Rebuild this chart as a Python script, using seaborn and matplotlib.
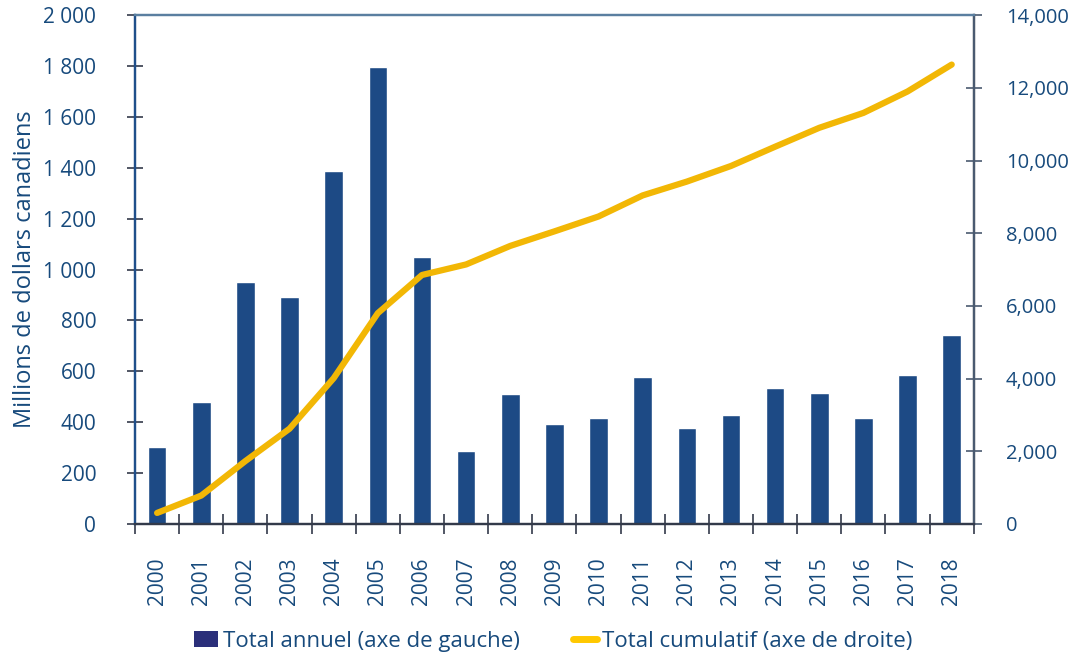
import numpy as np
import pandas as pd
import matplotlib
matplotlib.use("Agg")
import matplotlib.pyplot as plt
import matplotlib.transforms as mtrans
import seaborn as sns
from matplotlib.patches import Patch
from matplotlib.lines import Line2D
from matplotlib.ticker import FixedLocator

years = ["2000", "2001", "2002", "2003", "2004", "2005", "2006", "2007", "2008", "2009",
         "2010", "2011", "2012", "2013", "2014", "2015", "2016", "2017", "2018"]
annual = [302, 479, 951, 892, 1387, 1796, 1049, 287, 511, 393,
          416, 578, 377, 428, 534, 515, 416, 585, 743]
cumulative = [302, 780, 1730, 2620, 4010, 5800, 6850, 7140, 7650, 8050,
              8460, 9040, 9420, 9850, 10380, 10900, 11310, 11900, 12640]
left_ticks = [0, 200, 400, 600, 800, 1000, 1200, 1400, 1600, 1800, 2000]
right_ticks = [0, 2000, 4000, 6000, 8000, 10000, 12000, 14000]

BAR = "#1d4a85"
LINE = "#f2b705"
TXT = "#174a7c"

sns.set_theme(style="white")
plt.rcParams['font.family'] = ['Open Sans', 'DejaVu Sans']

df = pd.DataFrame({"year": years, "annual": annual, "cumulative": cumulative})
df["pos"] = np.arange(len(df))

fig = plt.figure(figsize=(10.76, 6.59), dpi=100)
ax = fig.add_axes([0.1255, 0.205, 0.7795, 0.772])
sns.barplot(data=df, x="year", y="annual", color=BAR, saturation=1, width=0.42, ax=ax)
ax.set_ylim(0, 2000)
ax.set_xlim(-0.5, len(years) - 0.5)

ax2 = ax.twinx()
sns.lineplot(data=df, x="pos", y="cumulative", color=LINE, linewidth=4.5, ax=ax2,
             solid_capstyle="round", solid_joinstyle="round")
ax2.set_ylim(0, 14000)
ax2.set_xlim(-0.5, len(years) - 0.5)

ax.set_xlabel("")
ax2.set_xlabel("")
ax2.set_ylabel("")
ax.set_ylabel("Millions de dollars canadiens", fontsize=17, color=TXT, labelpad=4)

ax.set_yticks(left_ticks)
ax.set_yticklabels([f"{v:,}".replace(",", " ") for v in left_ticks], fontsize=15, color=TXT)
ax2.set_yticks(right_ticks)
ax2.set_yticklabels([f"{v:,}" for v in right_ticks], fontsize=14.5, color=TXT)
offset = mtrans.ScaledTranslation(0, -8 / 100, fig.dpi_scale_trans)
for lab in ax2.get_yticklabels():
    lab.set_transform(lab.get_transform() + offset)

ax.set_xticks(np.arange(len(years)))
ax.set_xticklabels(years, rotation=90, fontsize=15, color=TXT)
ax.xaxis.set_minor_locator(FixedLocator(np.arange(len(years) + 1) - 0.5))
ax.tick_params(axis="x", which="major", length=0, pad=24)
ax.tick_params(axis="x", which="minor", length=14, width=1.2, direction="inout", color="#333a4a", bottom=True)
ax.tick_params(axis="y", length=12, width=1.2, direction="inout", color="#333a4a", left=True, pad=22)
ax2.tick_params(axis="y", length=12, width=1.2, direction="inout", color="#4a5a70", right=True, pad=17)
ax2.tick_params(axis="x", length=0, labelbottom=False)

for a in (ax, ax2):
    for s in a.spines.values():
        s.set_visible(True)
        s.set_linewidth(1.6)
ax.spines["left"].set_color("#1f4f8a")
ax.spines["top"].set_color("#5a7fa0")
ax.spines["bottom"].set_color("#333a4a")
ax2.spines["right"].set_color("#4a5a70")
ax2.spines["top"].set_color("#5a7fa0")
ax2.spines["left"].set_color("#1f4f8a")
ax2.spines["bottom"].set_color("#333a4a")
ax.grid(False)
ax2.grid(False)

handles = [Patch(facecolor="#2b2f7a", edgecolor="none", label="Total annuel (axe de gauche)"),
           Line2D([0], [0], color="#ffc800", linewidth=5, label="Total cumulatif (axe de droite)")]
fig.legend(handles=handles, loc="center", bbox_to_anchor=(0.514, 0.027), ncol=2, frameon=False,
           fontsize=16, labelcolor=TXT, handlelength=1.1, handletextpad=0.2, columnspacing=2.4)

fig.savefig("out.png", dpi=100, facecolor="white")
